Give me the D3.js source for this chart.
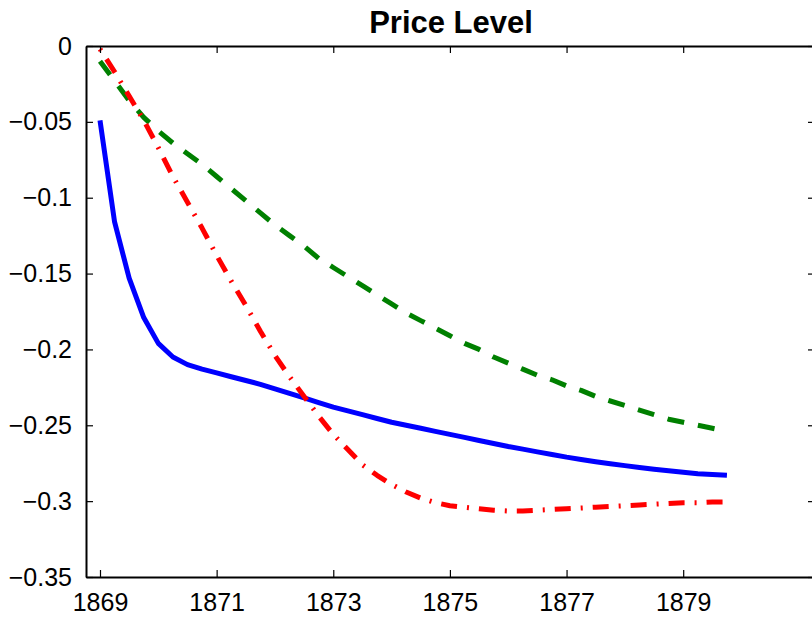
<!DOCTYPE html>
<html>
<head>
<meta charset="utf-8">
<script src="https://cdn.jsdelivr.net/npm/d3@7"></script>
<style>
  html, body { margin: 0; padding: 0; background: #fff; }
  svg { display: block; }
  text { font-family: "Liberation Sans", Arial, Helvetica, sans-serif; fill: #000; }
</style>
</head>
<body>
<svg id="chart" width="812" height="618"></svg>
<script>
const title = "Price Level";
const years = [
  1869.00, 1869.25, 1869.50, 1869.75, 1870.00, 1870.25, 1870.50, 1870.75,
  1871.00, 1871.25, 1871.50, 1871.75, 1872.00, 1872.25, 1872.50, 1872.75,
  1873.00, 1873.25, 1873.50, 1873.75, 1874.00, 1874.25, 1874.50, 1874.75,
  1875.00, 1875.25, 1875.50, 1875.75, 1876.00, 1876.25, 1876.50, 1876.75,
  1877.00, 1877.25, 1877.50, 1877.75, 1878.00, 1878.25, 1878.50, 1878.75,
  1879.00, 1879.25, 1879.50, 1879.75
];
const blueSeries = [
  -0.049, -0.116, -0.153, -0.179, -0.196, -0.205, -0.210, -0.213,
  -0.2155, -0.218, -0.2205, -0.223, -0.226, -0.229, -0.232, -0.235,
  -0.238, -0.2405, -0.243, -0.2455, -0.248, -0.250, -0.252, -0.254,
  -0.256, -0.258, -0.260, -0.262, -0.264, -0.2657, -0.2675, -0.2692,
  -0.271, -0.2725, -0.274, -0.2753, -0.2766, -0.2778, -0.279, -0.280,
  -0.281, -0.282, -0.2825, -0.283
];
const greenSeries = [
  -0.010, -0.023, -0.036, -0.047, -0.056, -0.064, -0.071, -0.078,
  -0.086, -0.094, -0.102, -0.110, -0.118, -0.125, -0.132, -0.140,
  -0.146, -0.152, -0.158, -0.164, -0.170, -0.176, -0.181, -0.186,
  -0.191, -0.196, -0.200, -0.205, -0.209, -0.213, -0.217, -0.220,
  -0.224, -0.227, -0.231, -0.234, -0.237, -0.240, -0.243, -0.246,
  -0.248, -0.250, -0.252, -0.254
];
const redSeries = [
  -0.002, -0.017, -0.033, -0.049, -0.067, -0.086, -0.103, -0.120,
  -0.138, -0.155, -0.171, -0.188, -0.204, -0.218, -0.231, -0.244,
  -0.256, -0.266, -0.276, -0.283, -0.289, -0.294, -0.298, -0.301,
  -0.303, -0.304, -0.305, -0.306, -0.3065, -0.3065, -0.306, -0.3055,
  -0.305, -0.3045, -0.304, -0.3035, -0.303, -0.3025, -0.302, -0.3015,
  -0.301, -0.301, -0.3005, -0.3005
];
const xTicks = [1869, 1871, 1873, 1875, 1877, 1879];
const yTicks = [0, -0.05, -0.1, -0.15, -0.2, -0.25, -0.3, -0.35];
const xDomain = [1868.76, 1881.26];
const yDomain = [-0.35, 0];

const svg = d3.select("#chart");
const mLeft = 86, mTop = 46, mBottom = 577, mRight = 815;

const x = d3.scaleLinear().domain(xDomain).range([mLeft, mRight]);
const y = d3.scaleLinear().domain(yDomain).range([mBottom, mTop]);

const fmtY = v => v === 0 ? "0" : d3.format("")(v).replace("-", "\u2212");

// series
const line = d3.line().x(d => x(d[0])).y(d => y(d[1]));
const series = [
  { vals: blueSeries, color: "#0000ff", dash: null },
  { vals: greenSeries, color: "#008000", dash: "17,14" },
  { vals: redSeries, color: "#ff0000", dash: "2,10,16,10" }
];
const plot = svg.append("g");
series.forEach(s => {
  const p = plot.append("path")
    .datum(years.map((yr, i) => [yr, s.vals[i]]))
    .attr("d", line)
    .attr("fill", "none")
    .attr("stroke", s.color)
    .attr("stroke-width", 5)
    .attr("stroke-linejoin", "round")
    .attr("stroke-linecap", "butt");
  if (s.dash) p.attr("stroke-dasharray", s.dash);
});

// axes (MATLAB-like box with inward ticks)
const axB = d3.axisBottom(x).tickValues(xTicks).tickFormat(d3.format("d")).tickSizeInner(-7).tickSizeOuter(0).tickPadding(16);
const axT = d3.axisTop(x).tickValues(xTicks).tickFormat("").tickSizeInner(-7).tickSizeOuter(0);
const axL = d3.axisLeft(y).tickValues(yTicks).tickFormat(fmtY).tickSizeInner(-7).tickSizeOuter(0).tickPadding(14);
const axR = d3.axisRight(y).tickValues(yTicks).tickFormat("").tickSizeInner(-7).tickSizeOuter(0);

function style(g) {
  g.select(".domain").attr("stroke", "#000").attr("stroke-width", 2);
  g.selectAll(".tick line").attr("stroke", "#000").attr("stroke-width", 1.2);
  g.selectAll(".tick text").attr("font-size", 25).attr("font-family", "'Liberation Sans', Arial, Helvetica, sans-serif").attr("fill", "#000");
}
svg.append("g").attr("transform", `translate(0,${mBottom})`).call(axB).call(style);
svg.append("g").attr("transform", `translate(0,${mTop})`).call(axT).call(style);
svg.append("g").attr("transform", `translate(${mLeft},0)`).call(axL).call(style);
svg.append("g").attr("transform", `translate(${mRight},0)`).call(axR).call(style);

svg.append("text")
  .attr("x", 451).attr("y", 33)
  .attr("text-anchor", "middle")
  .attr("font-size", 31)
  .attr("font-weight", "bold")
  .text(title);
</script>
</body>
</html>
